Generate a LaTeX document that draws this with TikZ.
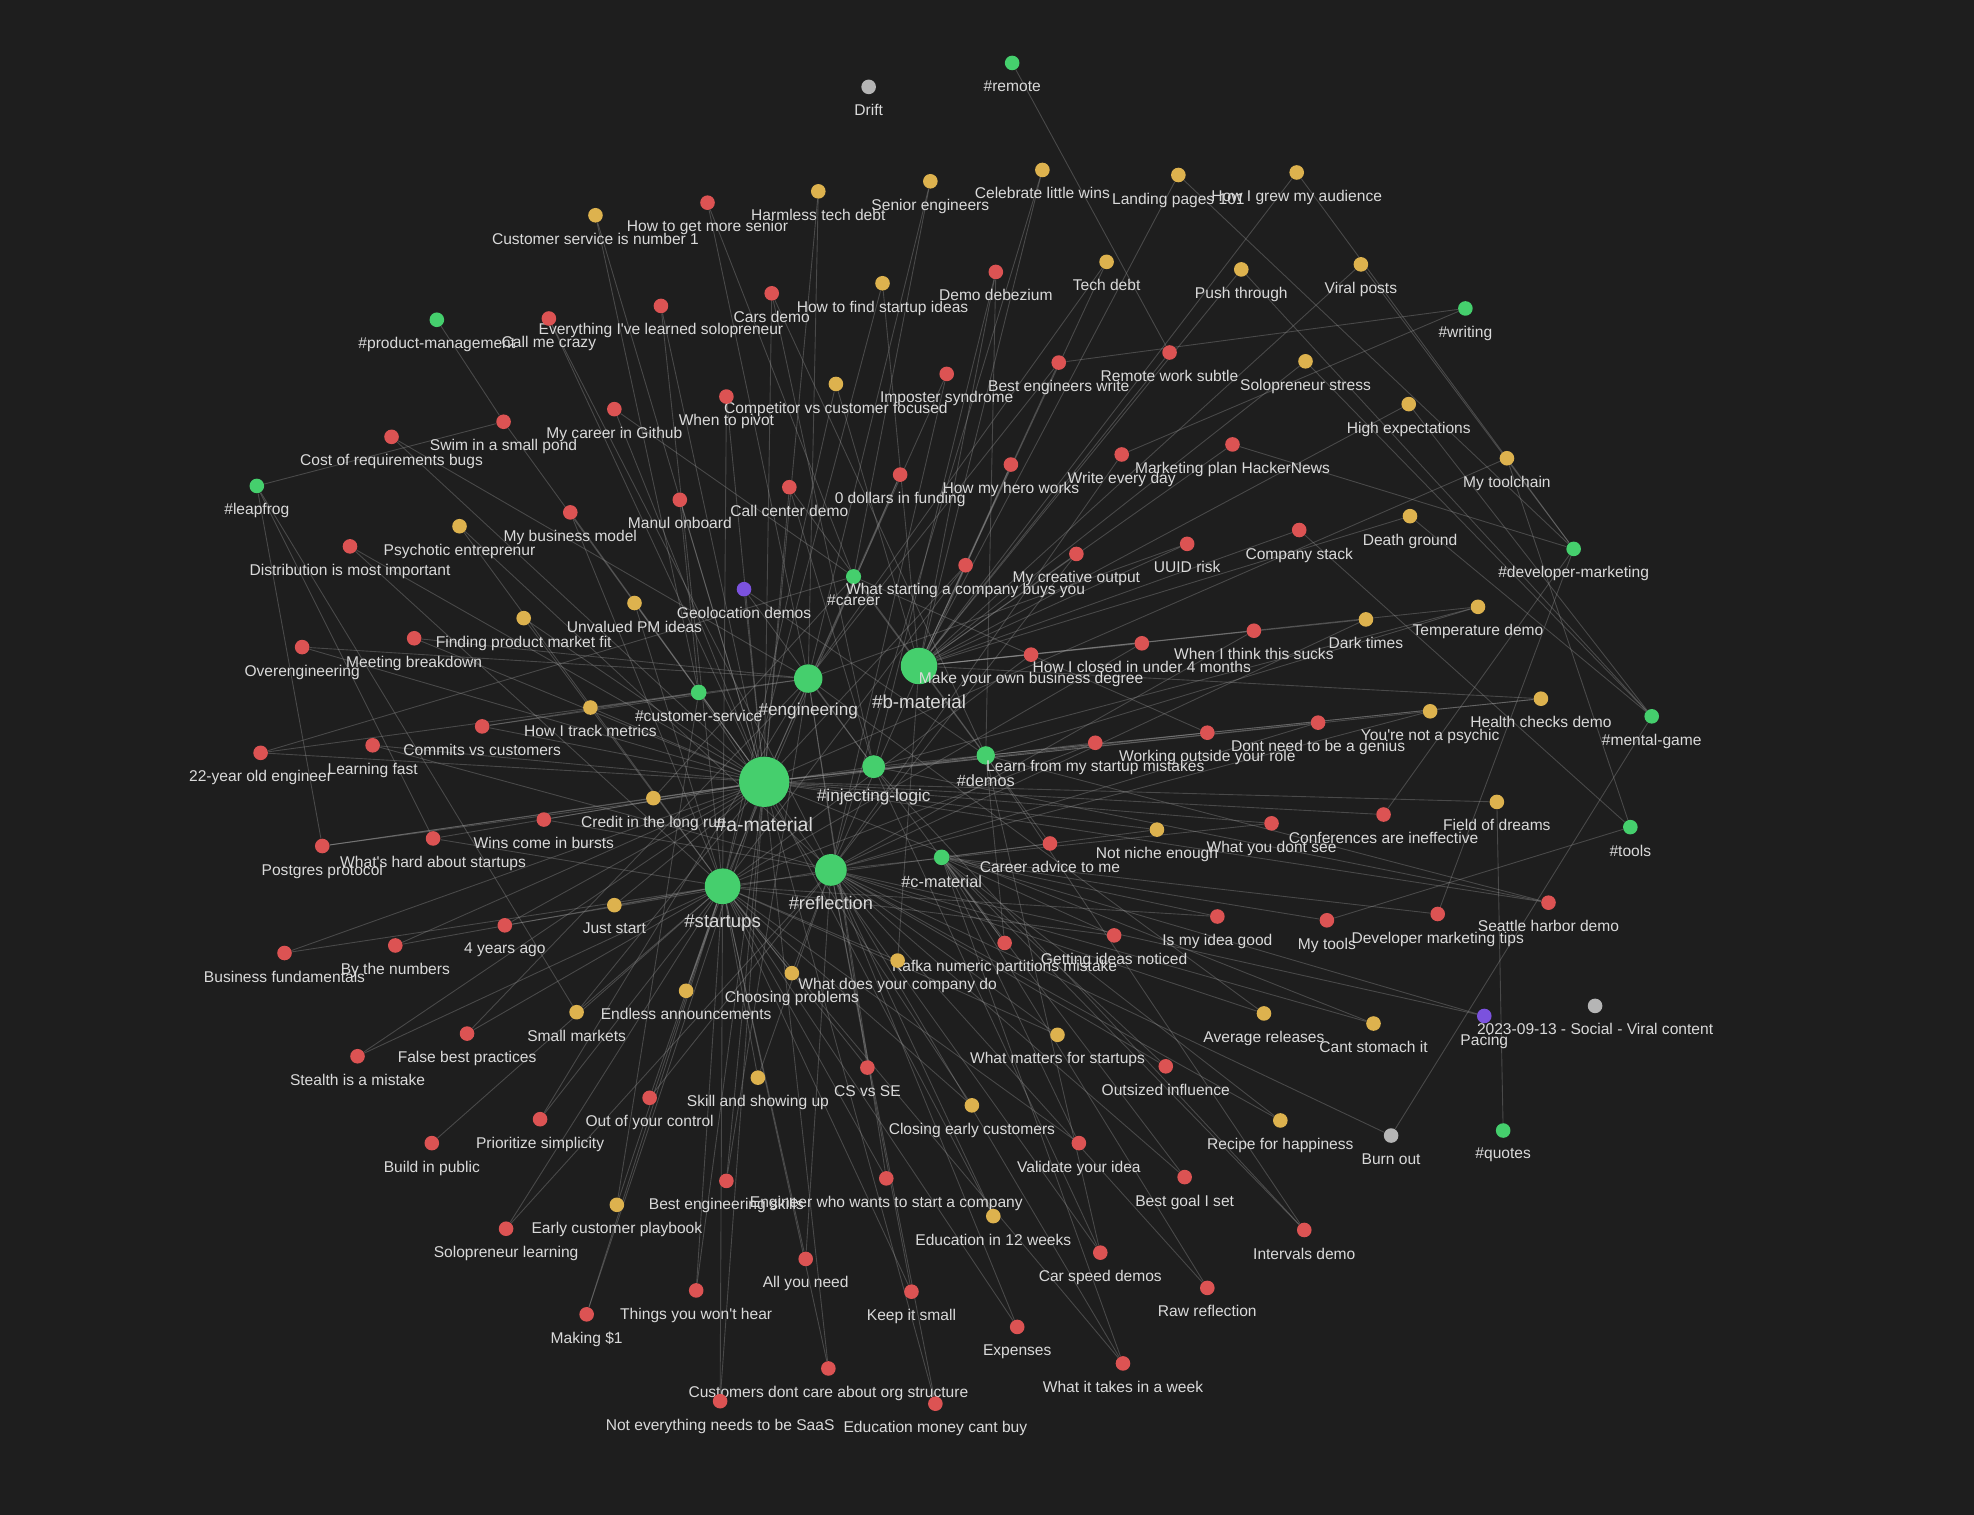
\documentclass[tikz,border=0pt]{standalone}
\usepackage{fontspec}
\setmainfont{Liberation Sans}
\definecolor{bgdark}{HTML}{1E1E1E}
\definecolor{notered}{HTML}{DC5353}
\definecolor{notegold}{HTML}{DDB24E}
\definecolor{taggreen}{HTML}{45CF6D}
\definecolor{notegrey}{HTML}{B5B5B5}
\definecolor{noteviolet}{HTML}{7B52DE}
\definecolor{labeltext}{HTML}{DADADA}
\definecolor{linegrey}{HTML}{9A9A9A}
\pgfdeclarelayer{canvas}
\pgfdeclarelayer{links}
\pgfsetlayers{canvas,links,main}

\begin{document}
\begin{tikzpicture}[
    x=0.025cm, y=-0.025cm,
    note/.style={circle, inner sep=0pt, minimum size=2.9mm},
    rednote/.style={note, fill=notered},
    goldnote/.style={note, fill=notegold},
    tagnote/.style={note, fill=taggreen},
    greynote/.style={note, fill=notegrey},
    violetnote/.style={note, fill=noteviolet},
    hub/.style={circle, inner sep=0pt, fill=taggreen, minimum size=#1},
    wire/.style={draw=linegrey, line width=0.5pt, draw opacity=0.35},
    label distance=5.5pt,
    every label/.style={text=labeltext, inner sep=0pt, font=\fontsize{8.8}{10.5}\selectfont}
  ]
  \useasboundingbox (0,0) rectangle (1568,1203);
  \begin{pgfonlayer}{canvas}
    \fill[bgdark] (0,0) rectangle (1568,1203);
  \end{pgfonlayer}

  % tag hubs
  \node[hub=10mm, label={[font=\fontsize{11}{13}\selectfont]below:\#a-material}] (amat) at (607,621) {};
  \node[hub=7.25mm, label={[font=\fontsize{10.6}{12.5}\selectfont]below:\#b-material}] (bmat) at (730,529) {};
  \node[hub=7.1mm, label={[font=\fontsize{10.5}{12.5}\selectfont]below:\#startups}] (startups) at (574,704) {};
  \node[hub=6.3mm, label={[font=\fontsize{10.3}{12.5}\selectfont]below:\#reflection}] (reflection) at (660,691) {};
  \node[hub=5.65mm, label={[font=\fontsize{9.7}{11.5}\selectfont]below:\#engineering}] (engineering) at (642,539) {};
  \node[hub=4.55mm, label={[font=\fontsize{9.7}{11.5}\selectfont]below:\#injecting-logic}] (injecting) at (694,609) {};
  \node[hub=3.65mm, label={[font=\fontsize{9.2}{11}\selectfont]below:\#demos}] (demos) at (783,600) {};
  \node[hub=3.1mm, label={[font=\fontsize{9.2}{11}\selectfont]below:\#c-material}] (cmat) at (748,681) {};
  \node[hub=3.1mm, label={below:\#customer-service}] (custsvc) at (555,550) {};
  \node[hub=3.0mm, label={below:\#career}] (career) at (678,458) {};

  % other tags
  \node[tagnote, label={below:\#remote}] (remote) at (804,50) {};
  \node[tagnote, label={below:\#writing}] (writing) at (1164,245) {};
  \node[tagnote, label={below:\#product-management}] (prodmgmt) at (347,254) {};
  \node[tagnote, label={below:\#leapfrog}] (leapfrog) at (204,386) {};
  \node[tagnote, label={below:\#developer-marketing}] (devmkt) at (1250,436) {};
  \node[tagnote, label={below:\#mental-game}] (mental) at (1312,569) {};
  \node[tagnote, label={below:\#tools}] (tools) at (1295,657) {};
  \node[tagnote, label={below:\#quotes}] (quotes) at (1194,898) {};

  % notes, top
  \node[greynote, label={below:Drift}] (drift) at (690,69) {};
  \node[goldnote, label={below:Celebrate little wins}] (celebrate) at (828,135) {};
  \node[goldnote, label={below:Landing pages 101}] (landing) at (936,139) {};
  \node[goldnote, label={below:How I grew my audience}] (grew) at (1030,137) {};
  \node[goldnote, label={below:Senior engineers}] (senior) at (739,144) {};
  \node[goldnote, label={below:Harmless tech debt}] (harmless) at (650,152) {};
  \node[rednote, label={below:How to get more senior}] (moresenior) at (562,161) {};
  \node[goldnote, label={below:Customer service is number 1}] (custno1) at (473,171) {};
  \node[goldnote, label={below:Tech debt}] (techdebt) at (879,208) {};
  \node[goldnote, label={below:Push through}] (push) at (986,214) {};
  \node[goldnote, label={below:Viral posts}] (viral) at (1081,210) {};
  \node[rednote, label={below:Demo debezium}] (debezium) at (791,216) {};
  \node[goldnote, label={below:How to find startup ideas}] (findideas) at (701,225) {};
  \node[rednote, label={below:Cars demo}] (carsdemo) at (613,233) {};
  \node[rednote, label={below:Everything I\textquotesingle ve learned solopreneur}] (everything) at (525,243) {};
  \node[rednote, label={below:Call me crazy}] (callcrazy) at (436,253) {};
  \node[rednote, label={below:Remote work subtle}] (remotesubtle) at (929,280) {};
  \node[goldnote, label={below:Solopreneur stress}] (solostress) at (1037,287) {};
  \node[rednote, label={below:Best engineers write}] (bestwrite) at (841,288) {};
  \node[rednote, label={below:Imposter syndrome}] (imposter) at (752,297) {};
  \node[goldnote, label={below:Competitor vs customer focused}] (competitor) at (664,305) {};
  \node[rednote, label={below:When to pivot}] (pivot) at (577,315) {};
  \node[rednote, label={below:My career in Github}] (github) at (488,325) {};
  \node[rednote, label={below:Swim in a small pond}] (swim) at (400,335) {};
  \node[rednote, label={below:Cost of requirements bugs}] (costreq) at (311,347) {};
  \node[goldnote, label={below:High expectations}] (highexp) at (1119,321) {};
  \node[rednote, label={below:Marketing plan HackerNews}] (mktplan) at (979,353) {};
  \node[rednote, label={below:Write every day}] (writeday) at (891,361) {};
  \node[rednote, label={below:How my hero works}] (hero) at (803,369) {};
  \node[rednote, label={below:0 dollars in funding}] (zerodollars) at (715,377) {};
  \node[rednote, label={below:Call center demo}] (callcenter) at (627,387) {};
  \node[rednote, label={below:Manul onboard}] (manul) at (540,397) {};
  \node[rednote, label={below:My business model}] (bizmodel) at (453,407) {};
  \node[goldnote, label={below:My toolchain}] (toolchain) at (1197,364) {};
  \node[goldnote, label={below:Psychotic entreprenur}] (psychotic) at (365,418) {};
  \node[rednote, label={below:Distribution is most important}] (distribution) at (278,434) {};
  \node[goldnote, label={below:Death ground}] (deathground) at (1120,410) {};
  \node[rednote, label={below:Company stack}] (compstack) at (1032,421) {};
  \node[rednote, label={below:UUID risk}] (uuid) at (943,432) {};
  \node[rednote, label={below:My creative output}] (creative) at (855,440) {};
  \node[rednote, label={below:What starting a company buys you}] (buysyou) at (767,449) {};
  \node[violetnote, label={below:Geolocation demos}] (geoloc) at (591,468) {};
  \node[goldnote, label={below:Unvalued PM ideas}] (unvalued) at (504,479) {};
  \node[goldnote, label={below:Finding product market fit}] (findpmf) at (416,491) {};
  \node[rednote, label={below:Meeting breakdown}] (meeting) at (329,507) {};
  \node[rednote, label={below:Overengineering}] (overeng) at (240,514) {};

  % notes, middle
  \node[goldnote, label={below:Temperature demo}] (tempdemo) at (1174,482) {};
  \node[goldnote, label={below:Dark times}] (darktimes) at (1085,492) {};
  \node[rednote, label={below:When I think this sucks}] (thinksucks) at (996,501) {};
  \node[rednote, label={below:How I closed in under 4 months}] (closed4) at (907,511) {};
  \node[rednote, label={below:Make your own business degree}] (makedegree) at (819,520) {};
  \node[goldnote, label={below:How I track metrics}] (trackmetrics) at (469,562) {};
  \node[rednote, label={below:Commits vs customers}] (commits) at (383,577) {};
  \node[rednote, label={below:Learning fast}] (learnfast) at (296,592) {};
  \node[rednote, label={below:22-year old engineer}] (yo22) at (207,598) {};
  \node[goldnote, label={below:Health checks demo}] (health) at (1224,555) {};
  \node[goldnote, label={below:You\textquotesingle re not a psychic}] (psychic) at (1136,565) {};
  \node[rednote, label={below:Dont need to be a genius}] (genius) at (1047,574) {};
  \node[rednote, label={below:Working outside your role}] (outsiderole) at (959,582) {};
  \node[rednote, label={below:Learn from my startup mistakes}] (learnmistakes) at (870,590) {};
  \node[goldnote, label={below:Credit in the long run}] (credit) at (519,634) {};
  \node[rednote, label={below:Wins come in bursts}] (wins) at (432,651) {};
  \node[rednote, label={below:What\textquotesingle s hard about startups}] (whatshard) at (344,666) {};
  \node[rednote, label={below:Postgres protocol}] (postgres) at (256,672) {};
  \node[goldnote, label={below:Field of dreams}] (fielddreams) at (1189,637) {};
  \node[rednote, label={below:Conferences are ineffective}] (conferences) at (1099,647) {};
  \node[rednote, label={below:What you dont see}] (dontsee) at (1010,654) {};
  \node[goldnote, label={below:Not niche enough}] (notniche) at (919,659) {};
  \node[rednote, label={below:Career advice to me}] (careeradvice) at (834,670) {};
  \node[goldnote, label={below:Just start}] (juststart) at (488,719) {};
  \node[rednote, label={below:4 years ago}] (fouryears) at (401,735) {};
  \node[rednote, label={below:By the numbers}] (numbers) at (314,751) {};
  \node[rednote, label={below:Business fundamentals}] (bizfund) at (226,757) {};
  \node[rednote, label={below:Seattle harbor demo}] (seattle) at (1230,717) {};
  \node[rednote, label={below:Developer marketing tips}] (devtips) at (1142,726) {};
  \node[rednote, label={below:My tools}] (mytools) at (1054,731) {};
  \node[rednote, label={below:Is my idea good}] (ideagood) at (967,728) {};
  \node[rednote, label={below:Getting ideas noticed}] (noticed) at (885,743) {};
  \node[rednote, label={below:Kafka numeric partitions mistake}] (kafka) at (798,749) {};
  \node[goldnote, label={below:What does your company do}] (companydo) at (713,763) {};
  \node[goldnote, label={below:Choosing problems}] (choosing) at (629,773) {};
  \node[goldnote, label={below:Endless announcements}] (endless) at (545,787) {};
  \node[goldnote, label={below:Small markets}] (smallmkts) at (458,804) {};
  \node[rednote, label={below:False best practices}] (falsebest) at (371,821) {};
  \node[rednote, label={below:Stealth is a mistake}] (stealth) at (284,839) {};

  % notes, bottom
  \node[greynote, label={below:2023-09-13 - Social - Viral content}] (viralcontent) at (1267,799) {};
  \node[violetnote, label={below:Pacing}] (pacing) at (1179,807) {};
  \node[goldnote, label={below:Cant stomach it}] (cantstomach) at (1091,813) {};
  \node[goldnote, label={below:Average releases}] (avgreleases) at (1004,805) {};
  \node[goldnote, label={below:What matters for startups}] (mattersstartups) at (840,822) {};
  \node[rednote, label={below:Outsized influence}] (outsized) at (926,847) {};
  \node[rednote, label={below:CS vs SE}] (csvsse) at (689,848) {};
  \node[goldnote, label={below:Skill and showing up}] (skill) at (602,856) {};
  \node[rednote, label={below:Out of your control}] (outcontrol) at (516,872) {};
  \node[rednote, label={below:Prioritize simplicity}] (simplicity) at (429,889) {};
  \node[rednote, label={below:Build in public}] (buildpublic) at (343,908) {};
  \node[goldnote, label={below:Closing early customers}] (closingearly) at (772,878) {};
  \node[goldnote, label={below:Recipe for happiness}] (happiness) at (1017,890) {};
  \node[greynote, label={below:Burn out}] (burnout) at (1105,902) {};
  \node[rednote, label={below:Validate your idea}] (validate) at (857,908) {};
  \node[rednote, label={below:Best goal I set}] (bestgoal) at (941,935) {};
  \node[rednote, label={below:Engineer who wants to start a company}] (engstart) at (704,936) {};
  \node[rednote, label={below:Best engineering skills}] (bestskills) at (577,938) {};
  \node[goldnote, label={below:Early customer playbook}] (earlyplaybook) at (490,957) {};
  \node[rednote, label={below:Solopreneur learning}] (sololearning) at (402,976) {};
  \node[goldnote, label={below:Education in 12 weeks}] (edu12) at (789,966) {};
  \node[rednote, label={below:Intervals demo}] (intervals) at (1036,977) {};
  \node[rednote, label={below:Car speed demos}] (carspeed) at (874,995) {};
  \node[rednote, label={below:All you need}] (allyouneed) at (640,1000) {};
  \node[rednote, label={below:Raw reflection}] (rawreflection) at (959,1023) {};
  \node[rednote, label={below:Keep it small}] (keepsmall) at (724,1026) {};
  \node[rednote, label={below:Things you won\textquotesingle t hear}] (wonthear) at (553,1025) {};
  \node[rednote, label={below:Making \$1}] (making1) at (466,1044) {};
  \node[rednote, label={below:Expenses}] (expenses) at (808,1054) {};
  \node[rednote, label={below:What it takes in a week}] (takesweek) at (892,1083) {};
  \node[rednote, label={below:Customers dont care about org structure}] (orgstructure) at (658,1087) {};
  \node[rednote, label={below:Not everything needs to be SaaS}] (saas) at (572,1113) {};
  \node[rednote, label={below:Education money cant buy}] (edumoney) at (743,1115) {};

  % links
  \begin{pgfonlayer}{links}
    \foreach \n in {custno1, everything, callcrazy, imposter, pivot, github, swim, costreq, zerodollars,
      callcenter, manul, bizmodel, distribution, buysyou, geoloc, unvalued, findpmf, meeting, overeng,
      trackmetrics, commits, learnfast, yo22, psychic, genius, outsiderole, learnmistakes, credit, wins,
      whatshard, postgres, fielddreams, conferences, dontsee, notniche, juststart, fouryears, numbers,
      bizfund, seattle, endless, smallmkts, stealth, cantstomach, bestskills, edu12, carspeed, wonthear,
      making1, orgstructure, saas, edumoney, carsdemo, harmless, toolchain}
      \draw[wire] (amat) -- (\n);
    \foreach \n in {celebrate, landing, grew, techdebt, push, viral, debezium, findideas, remotesubtle,
      solostress, bestwrite, competitor, highexp, mktplan, hero, deathground, compstack, uuid, creative,
      tempdemo, darktimes, thinksucks, closed4, makedegree, health, companydo}
      \draw[wire] (bmat) -- (\n);
    \foreach \n in {careeradvice, devtips, mytools, ideagood, noticed, kafka, pacing, outsized, happiness,
      validate, bestgoal, intervals, rawreflection, takesweek}
      \draw[wire] (cmat) -- (\n);
    \foreach \n in {findideas, everything, competitor, pivot, zerodollars, bizmodel, psychotic, distribution,
      buysyou, unvalued, findpmf, closed4, makedegree, learnmistakes, whatshard, notniche, juststart, numbers,
      bizfund, ideagood, noticed, companydo, choosing, endless, smallmkts, falsebest, stealth, mattersstartups,
      csvsse, skill, outcontrol, simplicity, buildpublic, closingearly, validate, engstart, earlyplaybook,
      sololearning, allyouneed, keepsmall, wonthear, making1, expenses, takesweek, orgstructure, saas}
      \draw[wire] (startups) -- (\n);
    \foreach \n in {celebrate, callcrazy, imposter, writeday, hero, psychotic, creative, darktimes, thinksucks,
      learnfast, psychic, genius, wins, dontsee, fouryears, choosing, pacing, cantstomach, avgreleases,
      mattersstartups, outsized, skill, outcontrol, happiness, burnout, bestgoal, sololearning, edu12,
      allyouneed, rawreflection, keepsmall, expenses, takesweek, edumoney}
      \draw[wire] (reflection) -- (\n);
    \foreach \n in {senior, harmless, moresenior, techdebt, bestwrite, costreq, uuid, meeting, overeng,
      commits, yo22, kafka, falsebest, avgreleases, csvsse, simplicity, engstart, bestskills}
      \draw[wire] (engineering) -- (\n);
    \foreach \n in {carsdemo, callcenter, geoloc, debezium, tempdemo, health, seattle, intervals, carspeed, postgres}
      \draw[wire] (injecting) -- (\n);
    \foreach \n in {carsdemo, callcenter, geoloc, debezium, tempdemo, health, seattle, intervals, carspeed, postgres, kafka}
      \draw[wire] (demos) -- (\n);
    \foreach \n in {custno1, manul, trackmetrics, closingearly, earlyplaybook, commits}
      \draw[wire] (custsvc) -- (\n);
    \foreach \n in {moresenior, senior, github, yo22, outsiderole, credit, careeradvice}
      \draw[wire] (career) -- (\n);
    \draw[wire] (remote) -- (remotesubtle);
    \draw[wire] (writing) -- (bestwrite) (writing) -- (writeday);
    \foreach \n in {grew, landing, viral, mktplan, conferences, devtips}
      \draw[wire] (devmkt) -- (\n);
    \foreach \n in {push, highexp, solostress, deathground, burnout}
      \draw[wire] (mental) -- (\n);
    \foreach \n in {toolchain, compstack, mytools}
      \draw[wire] (tools) -- (\n);
    \draw[wire] (quotes) -- (fielddreams);
    \foreach \n in {swim, postgres, whatshard, smallmkts}
      \draw[wire] (leapfrog) -- (\n);
    \draw[wire] (prodmgmt) -- (swim);
  \end{pgfonlayer}
\end{tikzpicture}
\end{document}
